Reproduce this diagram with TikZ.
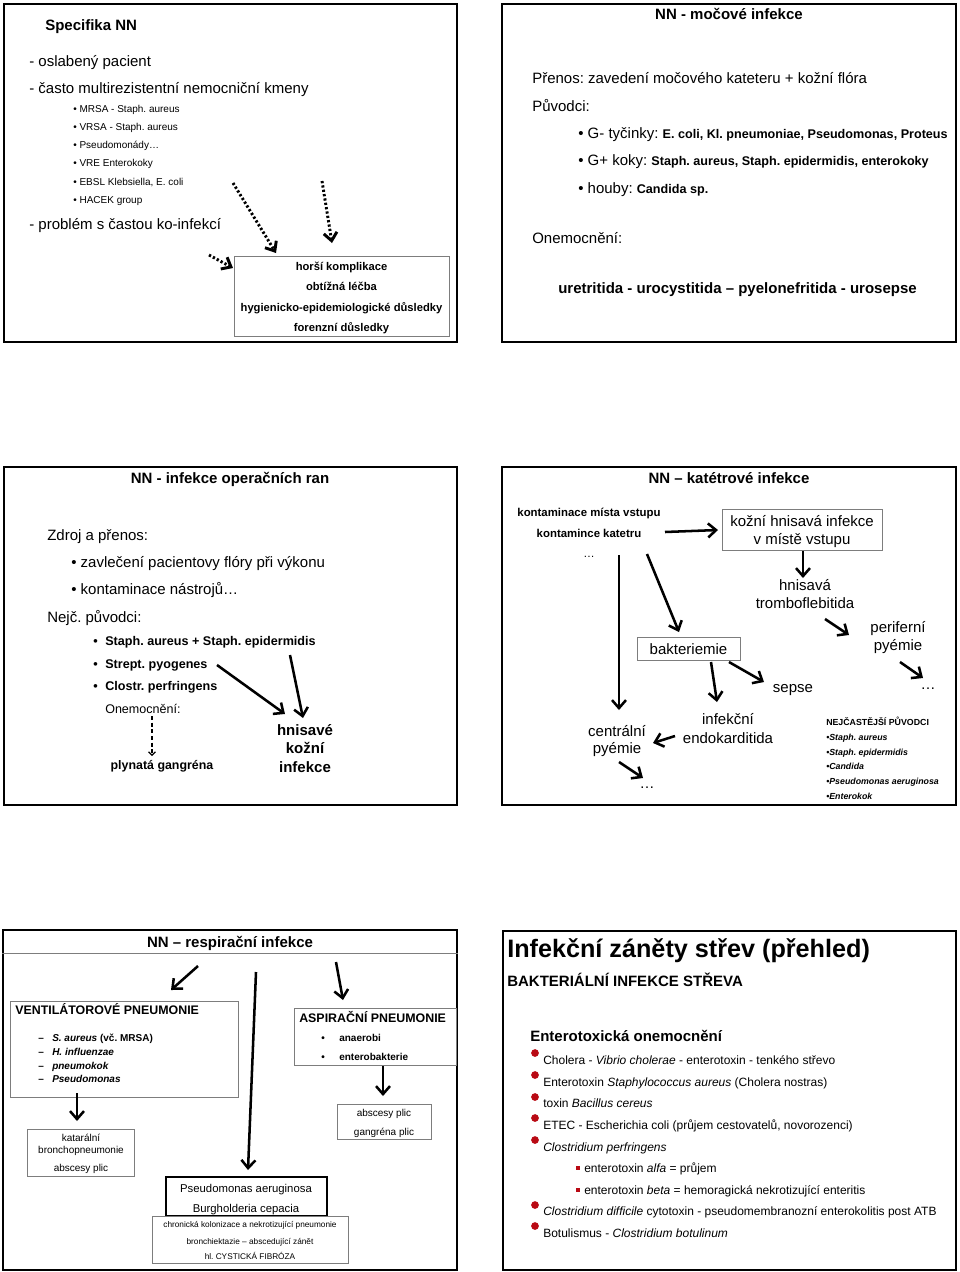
\documentclass[tikz,border=0pt]{standalone}
\usepackage{fontspec}
\setmainfont{Liberation Sans}
\usetikzlibrary{arrows.meta,fit}
\definecolor{boxgray}{RGB}{125,125,125}
\definecolor{bulred}{RGB}{185,10,20}
\newcommand\fs[2]{\fontsize{#1pt}{#2pt}\selectfont}
\frenchspacing
\begin{document}
\frenchspacing
\begin{tikzpicture}[x=0.75pt,y=-0.75pt,
  frame/.style={draw, line width=1.6pt, inner sep=0},
  gbox/.style={draw=boxgray, line width=0.75pt, inner sep=0},
  tl/.style={inner sep=0, anchor=base west},
  tc/.style={inner sep=0, anchor=base},
  arr/.style={line width=1.9pt, -{Straight Barb[length=6pt,width=10.5pt]}},
  dotarr/.style={line width=2.2pt, dash pattern=on 1.7pt off 1.6pt, -{Straight Barb[length=6pt,width=10pt]}},
  dasharr/.style={line width=0.9pt, dash pattern=on 3pt off 2pt, -{Straight Barb[length=2.5pt,width=5pt]}},
  rdot/.style={circle, fill=bulred, minimum size=5.8pt, inner sep=0},
  rsq/.style={rectangle, fill=bulred, minimum size=2.4pt, inner sep=0},
  big/.style={font=\fs{11.25}{13}},
  bigb/.style={font=\fs{11.25}{13}\bfseries}
]
\useasboundingbox (0,0) rectangle (960,1272);
\fill[white] (0,0) rectangle (960,1272);

%================ Slide 1 ================
\node[frame, fit={(4,4)(457,342)}] (s1) {};
\node[tl, bigb] (s1title) at (45,30) {Specifika NN};
\node[tl, big] (s1a) at (29,66) {- oslabený pacient};
\node[tl, big] (s1b) at (29,93) {- často multirezistentní nemocniční kmeny};
\node[tl, font=\fs{7.5}{9}] (s1i1) at (73,112.5) {\textbullet\ MRSA - Staph. aureus};
\node[tl, font=\fs{7.5}{9}] (s1i2) at (73,130.5) {\textbullet\ VRSA - Staph. aureus};
\node[tl, font=\fs{7.5}{9}] (s1i3) at (73,148.5) {\textbullet\ Pseudomonády…};
\node[tl, font=\fs{7.5}{9}] (s1i4) at (73,166.5) {\textbullet\ VRE Enterokoky};
\node[tl, font=\fs{7.5}{9}] (s1i5) at (73,185.5) {\textbullet\ EBSL Klebsiella, E. coli};
\node[tl, font=\fs{7.5}{9}] (s1i6) at (73,203.5) {\textbullet\ HACEK group};
\node[tl, big] (s1c) at (29,229) {- problém s častou ko-infekcí};
\node[gbox, fit={(234,256)(449,336)}] (s1box) {};
\node[tc, font=\fs{8.4}{10}\bfseries] (s1k1) at (341.5,270) {horší komplikace};
\node[tc, font=\fs{8.4}{10}\bfseries] (s1k2) at (341.5,290) {obtížná léčba};
\node[tc, font=\fs{8.4}{10}\bfseries] (s1k3) at (341.5,311) {hygienicko-epidemiologické důsledky};
\node[tc, font=\fs{8.4}{10}\bfseries] (s1k4) at (341.5,331) {forenzní důsledky};
\coordinate (d1s) at (233,183); \coordinate (d1e) at (276,253);
\coordinate (d2s) at (322,181); \coordinate (d2e) at (332,243);
\coordinate (d3s) at (209,255); \coordinate (d3e) at (233,268);
\draw[dotarr] (d1s) -- (d1e);
\draw[dotarr] (d2s) -- (d2e);
\draw[dotarr] (d3s) -- (d3e);

%================ Slide 2 ================
\node[frame, fit={(502,4)(956,342)}] (s2) {};
\node[tc, bigb] (s2title) at (729,19) {NN - močové infekce};
\node[tl, big] (s2a) at (532,83) {Přenos: zavedení močového kateteru + kožní flóra};
\node[tl, big] (s2b) at (532,111) {Původci:};
\node[tl] (s2c) at (578,138) {{\fs{11.25}{13}\textbullet\ G- tyčinky: }{\fs{9.45}{11}\bfseries E. coli, Kl. pneumoniae, Pseudomonas, Proteus}};
\node[tl] (s2d) at (578,165) {{\fs{11.25}{13}\textbullet\ G+ koky: }{\fs{9.45}{11}\bfseries Staph. aureus, Staph. epidermidis, enterokoky}};
\node[tl] (s2e) at (578,193) {{\fs{11.25}{13}\textbullet\ houby: }{\fs{9.45}{11}\bfseries Candida sp.}};
\node[tl, big] (s2f) at (532,243) {Onemocnění:};
\node[tc, bigb] (s2g) at (737.5,293) {uretritida - urocystitida – pyelonefritida - urosepse};

%================ Slide 3 ================
\node[frame, fit={(4,467)(457,805)}] (s3) {};
\node[tc, bigb] (s3title) at (230,483) {NN - infekce operačních ran};
\node[tl, big] (s3a) at (47,540) {Zdroj a přenos:};
\node[tl, big] (s3b) at (71,567) {\textbullet\ zavlečení pacientovy flóry při výkonu};
\node[tl, big] (s3c) at (71,594) {\textbullet\ kontaminace nástrojů…};
\node[tl, big] (s3d) at (47,622) {Nejč. původci:};
\node[tl, font=\fs{9.45}{11}\bfseries] (s3e0) at (93,645) {•};
\node[tl, font=\fs{9.45}{11}\bfseries] (s3e) at (105,645) {Staph. aureus + Staph. epidermidis};
\node[tl, font=\fs{9.45}{11}\bfseries] (s3f0) at (93,668) {•};
\node[tl, font=\fs{9.45}{11}\bfseries] (s3f) at (105,668) {Strept. pyogenes};
\node[tl, font=\fs{9.45}{11}\bfseries] (s3g0) at (93,690) {•};
\node[tl, font=\fs{9.45}{11}\bfseries] (s3g) at (105,690) {Clostr. perfringens};
\node[tl, font=\fs{9.4}{11}] (s3h) at (105,713) {Onemocnění:};
\node[tc, font=\fs{9.3}{11}\bfseries] (s3i) at (162,769) {plynatá gangréna};
\node[tc, bigb] (s3j1) at (305,735) {hnisavé};
\node[tc, bigb] (s3j2) at (305,753) {kožní};
\node[tc, bigb] (s3j3) at (305,772) {infekce};
\coordinate (g1s) at (152,716); \coordinate (g1e) at (152,756);
\draw[dasharr] (g1s) -- (g1e);
\coordinate (h1s) at (217,665); \coordinate (h1e) at (285,714);
\coordinate (h2s) at (290,655); \coordinate (h2e) at (303,718);
\draw[arr] (h1s) -- (h1e);
\draw[arr] (h2s) -- (h2e);

%================ Slide 4 ================
\node[frame, fit={(502,467)(956,805)}] (s4) {};
\node[tc, bigb] (s4title) at (729,483) {NN – katétrové infekce};
\node[tc, font=\fs{8.55}{10}\bfseries] (s4a) at (589,516) {kontaminace místa vstupu};
\node[tc, font=\fs{8.55}{10}\bfseries] (s4b) at (589,537) {kontamince katetru};
\node[tc, font=\fs{8.55}{10}] (s4c) at (589,557) {…};
\node[gbox, fit={(722,509)(882,550)}] (s4box) {};
\node[tc, big] (s4box1) at (802,526) {kožní hnisavá infekce};
\node[tc, big] (s4box2) at (802,544) {v místě vstupu};
\node[tc, big] (s4d1) at (805,590) {hnisavá};
\node[tc, big] (s4d2) at (805,608) {tromboflebitida};
\node[tc, big] (s4e1) at (898,632) {periferní};
\node[tc, big] (s4e2) at (898,650) {pyémie};
\node[tc, big] (s4f) at (928,689) {…};
\node[gbox, fit={(637,637)(740,660)}] (s4bak) {};
\node[tc, big] (s4bakt) at (688.5,654) {bakteriemie};
\node[tc, big] (s4g) at (793,692) {sepse};
\node[tc, big] (s4h1) at (728,724) {infekční};
\node[tc, big] (s4h2) at (728,743) {endokarditida};
\node[tc, big] (s4i1) at (617,736) {centrální};
\node[tc, big] (s4i2) at (617,753) {pyémie};
\node[tc, big] (s4j) at (647,788) {…};
\node[tl, font=\fs{6.6}{8}\bfseries] (s4k) at (826,725) {NEJČASTĚJŠÍ PŮVODCI};
\node[tl, font=\fs{6.6}{8}\bfseries\itshape] (s4k1) at (826,740) {•Staph. aureus};
\node[tl, font=\fs{6.6}{8}\bfseries\itshape] (s4k2) at (826,755) {•Staph. epidermidis};
\node[tl, font=\fs{6.6}{8}\bfseries\itshape] (s4k3) at (826,769) {•Candida};
\node[tl, font=\fs{6.6}{8}\bfseries\itshape] (s4k4) at (826,784) {•Pseudomonas aeruginosa};
\node[tl, font=\fs{6.6}{8}\bfseries\itshape] (s4k5) at (826,799) {•Enterokok};
\coordinate (k1s) at (665,532); \coordinate (k1e) at (718,530);
\coordinate (k2s) at (619,555); \coordinate (k2e) at (619,710);
\coordinate (k3s) at (647,554); \coordinate (k3e) at (679,632);
\coordinate (k4s) at (803,551); \coordinate (k4e) at (803,578);
\coordinate (k5s) at (825,619); \coordinate (k5e) at (849,635);
\coordinate (k6s) at (900,662); \coordinate (k6e) at (923,678);
\coordinate (k7s) at (711,662); \coordinate (k7e) at (717,702);
\coordinate (k8s) at (729,662); \coordinate (k8e) at (764,682);
\coordinate (k9s) at (675,736); \coordinate (k9e) at (653,743);
\coordinate (k10s) at (619,762); \coordinate (k10e) at (643,778);
\foreach \n in {1,...,10} {\draw[arr] (k\n s) -- (k\n e);}

%================ Slide 5 ================
\node[frame, fit={(3,930)(457,1270)}] (s5) {};
\draw[boxgray, line width=0.75pt] (s5.west |- 0,953) coordinate (s5l) -- (s5.east |- 0,953) coordinate (s5r);
\node[tc, bigb] (s5title) at (230,947) {NN – respirační infekce};
\node[gbox, fit={(10,1001)(238,1097)}] (s5v) {};
\node[tl, font=\fs{9.3}{11}\bfseries] (s5vt) at (15,1014) {VENTILÁTOROVÉ PNEUMONIE};
\node[tl, font=\fs{7.5}{9}\bfseries] (s5v1d) at (38,1041.5) {–};
\node[tl, font=\fs{7.5}{9}\bfseries] (s5v1) at (52,1041.5) {\textit{S. aureus} (vč. MRSA)};
\node[tl, font=\fs{7.5}{9}\bfseries] (s5v2d) at (38,1055.5) {–};
\node[tl, font=\fs{7.5}{9}\bfseries\itshape] (s5v2) at (52,1055.5) {H. influenzae};
\node[tl, font=\fs{7.5}{9}\bfseries] (s5v3d) at (38,1069.5) {–};
\node[tl, font=\fs{7.5}{9}\bfseries\itshape] (s5v3) at (52,1069.5) {pneumokok};
\node[tl, font=\fs{7.5}{9}\bfseries] (s5v4d) at (38,1082.5) {–};
\node[tl, font=\fs{7.5}{9}\bfseries\itshape] (s5v4) at (52,1082.5) {Pseudomonas};
\node[gbox, fit={(27,1129)(134,1176)}] (s5k) {};
\node[tc, font=\fs{7.5}{9}] (s5k1) at (81,1141.5) {katarální};
\node[tc, font=\fs{7.5}{9}] (s5k2) at (81,1153.5) {bronchopneumonie};
\node[tc, font=\fs{7.5}{9}] (s5k3) at (81,1171.5) {abscesy plic};
\node[gbox, fit={(294,1008)(456,1065)}] (s5a) {};
\node[tl, font=\fs{9.3}{11}\bfseries] (s5at) at (299,1022) {ASPIRAČNÍ PNEUMONIE};
\node[tl, font=\fs{7.5}{9}\bfseries] (s5a1d) at (321,1041.5) {•};
\node[tl, font=\fs{7.5}{9}\bfseries] (s5a1) at (339,1041.5) {anaerobi};
\node[tl, font=\fs{7.5}{9}\bfseries] (s5a2d) at (321,1060.5) {•};
\node[tl, font=\fs{7.5}{9}\bfseries] (s5a2) at (339,1060.5) {enterobakterie};
\node[gbox, fit={(337,1104)(431,1139)}] (s5ab) {};
\node[tc, font=\fs{7.5}{9}] (s5ab1) at (384,1116.5) {abscesy plic};
\node[tc, font=\fs{7.5}{9}] (s5ab2) at (384,1135.5) {gangréna plic};
\node[draw, line width=1.5pt, inner sep=0, fit={(166,1177)(327,1216)}] (s5p) {};
\node[tc, font=\fs{8.5}{10}] (s5p1) at (246,1192) {Pseudomonas aeruginosa};
\node[tc, font=\fs{8.5}{10}] (s5p2) at (246,1212) {Burgholderia cepacia};
\node[gbox, fit={(152,1216)(348,1263)}] (s5c) {};
\node[tc, font=\fs{6.2}{7}] (s5c1) at (250,1227) {chronická kolonizace a nekrotizující pneumonie};
\node[tc, font=\fs{6.2}{7}] (s5c2) at (250,1244) {bronchiektazie – abscedující zánět};
\node[tc, font=\fs{6.2}{7}] (s5c3) at (250,1259) {hl. CYSTICKÁ FIBRÓZA};
\coordinate (r1s) at (198,966); \coordinate (r1e) at (171,990);
\coordinate (r2s) at (256,972); \coordinate (r2e) at (248,1170);
\coordinate (r3s) at (336,962); \coordinate (r3e) at (343,1000);
\coordinate (r4s) at (77,1093); \coordinate (r4e) at (77,1121);
\coordinate (r5s) at (383,1066); \coordinate (r5e) at (383,1096);
\foreach \n in {1,...,5} {\draw[arr] (r\n s) -- (r\n e);}

%================ Slide 6 ================
\node[frame, fit={(503,931)(956,1270)}] (s6) {};
\node[tl, font=\fs{18.9}{22}\bfseries] (s6title) at (507,957) {Infekční záněty střev (přehled)};
\node[tl, bigb] (s6sub) at (507,986) {BAKTERIÁLNÍ INFEKCE STŘEVA};
\node[tl, bigb] (s6h) at (530,1041) {Enterotoxická onemocnění};
\node[tl, font=\fs{9}{11}] (s6i1) at (543,1064) {Cholera - \textit{Vibrio cholerae} - enterotoxin - tenkého střevo};
\node[tl, font=\fs{9}{11}] (s6i2) at (543,1086) {Enterotoxin \textit{Staphylococcus aureus} (Cholera nostras)};
\node[tl, font=\fs{9}{11}] (s6i3) at (543,1107) {toxin \textit{Bacillus cereus}};
\node[tl, font=\fs{9}{11}] (s6i4) at (543,1129) {ETEC - Escherichia coli (průjem cestovatelů, novorozenci)};
\node[tl, font=\fs{9}{11}\itshape] (s6i5) at (543,1151) {Clostridium perfringens};
\node[tl, font=\fs{9}{11}] (s6i6) at (584,1172) {enterotoxin \textit{alfa} = průjem};
\node[tl, font=\fs{9}{11}] (s6i7) at (584,1194) {enterotoxin \textit{beta} = hemoragická nekrotizující enteritis};
\node[tl, font=\fs{9}{11}] (s6i8) at (543,1215) {\textit{Clostridium difficile} cytotoxin - pseudomembranozní enterokolitis post ATB};
\node[tl, font=\fs{9}{11}] (s6i9) at (543,1237) {Botulismus - \textit{Clostridium botulinum}};
\node[rdot] (s6d1) at (535,1053) {};
\node[rdot] (s6d2) at (535,1075) {};
\node[rdot] (s6d3) at (535,1097) {};
\node[rdot] (s6d4) at (535,1118) {};
\node[rdot] (s6d5) at (535,1140) {};
\node[rdot] (s6d8) at (535,1205) {};
\node[rdot] (s6d9) at (535,1226) {};
\node[rsq] (s6q6) at (578,1168) {};
\node[rsq] (s6q7) at (578,1190) {};
\end{tikzpicture}
\end{document}
